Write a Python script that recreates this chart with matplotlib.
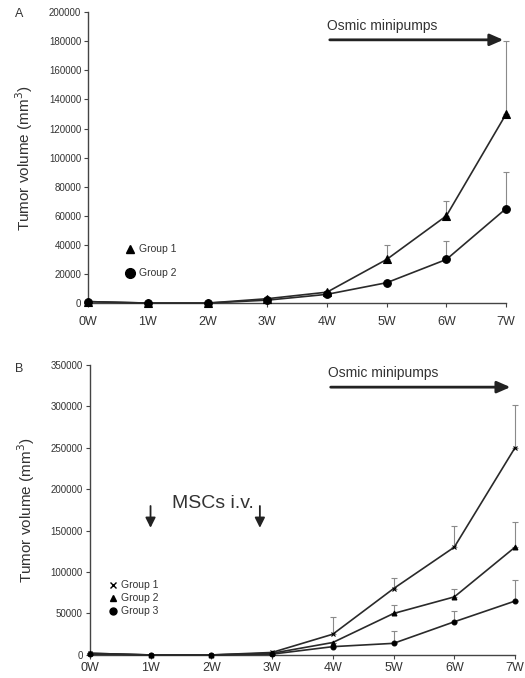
import numpy as np
import matplotlib
matplotlib.use("Agg")
from matplotlib import pyplot as plt

plt.rcParams['font.family'] = ['Liberation Sans', 'DejaVu Sans']

weeks = ['0W', '1W', '2W', '3W', '4W', '5W', '6W', '7W']

# panel A
a_g1 = [1000, 0, 0, 3000, 7500, 30000, 60000, 130000]
a_g1_top = [1000, 0, 0, 3000, 7500, 40000, 70000, 180000]
a_g2 = [1000, 0, 0, 2000, 6000, 14000, 30000, 65000]
a_g2_top = [1000, 0, 0, 2000, 6000, 14000, 43000, 90000]

# panel B
b_g1 = [2000, 0, 0, 3000, 25000, 80000, 130000, 250000]
b_g1_top = [2000, 0, 0, 3000, 46000, 93000, 155000, 302000]
b_g2 = [2000, 0, 0, 2000, 15000, 50000, 70000, 130000]
b_g2_top = [2000, 0, 0, 2000, 15000, 60000, 80000, 160000]
b_g3 = [1000, 0, 0, 1000, 10000, 14000, 40000, 65000]
b_g3_top = [1000, 0, 0, 1000, 10000, 29000, 53000, 90000]

x = np.arange(len(weeks))
line_c = '#2a2a2a'
err_c = '#8a8a8a'

fig = plt.figure(figsize=(5.25, 6.78), dpi=100)
axA = fig.add_axes([0.168, 0.553, 0.796, 0.429])
axB = fig.add_axes([0.171, 0.034, 0.810, 0.428])


def series(ax, y, top, marker, ms):
    y = np.array(y)
    up = np.array(top) - y
    ax.errorbar(x, y, yerr=[np.zeros_like(up), up], fmt='none', ecolor=err_c,
                elinewidth=0.8, capsize=2, capthick=0.8, zorder=2, clip_on=False)
    ax.plot(x, y, color=line_c, lw=1.2, marker=marker, ms=ms, mfc='black',
            mec='black', mew=0.8, zorder=3, clip_on=False)


def style(ax, ymax, step, xpad):
    ax.set_xlim(0, 7)
    ax.set_ylim(0, ymax)
    ax.set_xticks(x)
    ax.set_xticklabels(weeks, fontsize=9, color='#333333')
    ax.set_yticks(np.arange(0, ymax + 1, step))
    ax.set_yticklabels([str(int(v)) for v in np.arange(0, ymax + 1, step)],
                       fontsize=7, color='#333333')
    for s in ['top', 'right']:
        ax.spines[s].set_visible(False)
    for s in ['left', 'bottom']:
        ax.spines[s].set_color('#444444')
        ax.spines[s].set_linewidth(1.0)
    ax.tick_params(length=3, width=0.8, color='#444444', pad=2)
    ax.tick_params(axis='x', pad=xpad)
    ax.set_ylabel('Tumor volume (mm$^3$)', fontsize=11, color='#333333', labelpad=10)


# A
series(axA, a_g1, a_g1_top, '^', 5.5)
series(axA, a_g2, a_g2_top, 'o', 5.5)
style(axA, 200000, 20000, 6)
axA.annotate('', xy=(7.0, 181000), xytext=(4.0, 181000),
             arrowprops=dict(arrowstyle='-|>,head_length=0.8,head_width=0.35',
                             color='#222222', lw=2), annotation_clip=False)
axA.text(4.0, 186000, 'Osmic minipumps', fontsize=10, color='#333333', va='bottom')
axA.plot([0.7], [37000], marker='^', ms=6, color='black', ls='none')
axA.plot([0.7], [21000], marker='o', ms=7, color='black', ls='none')
axA.text(0.85, 37000, 'Group 1', fontsize=7.5, va='center', color='#333333')
axA.text(0.85, 21000, 'Group 2', fontsize=7.5, va='center', color='#333333')
fig.text(0.028, 0.975, 'A', fontsize=9, color='#333333')

# B
series(axB, b_g1, b_g1_top, 'x', 3.5)
series(axB, b_g2, b_g2_top, '^', 3.5)
series(axB, b_g3, b_g3_top, 'o', 3.5)
style(axB, 350000, 50000, 2)
axB.annotate('', xy=(6.97, 323000), xytext=(3.92, 323000),
             arrowprops=dict(arrowstyle='-|>,head_length=0.8,head_width=0.35',
                             color='#222222', lw=2), annotation_clip=False)
axB.text(3.92, 332000, 'Osmic minipumps', fontsize=10, color='#333333', va='bottom')
for xa in [1.0, 2.8]:
    axB.annotate('', xy=(xa, 150000), xytext=(xa, 183000),
                 arrowprops=dict(arrowstyle='-|>,head_length=0.6,head_width=0.3',
                                 color='#222222', lw=1.3))
axB.text(1.35, 183000, 'MSCs i.v.', fontsize=14, color='#333333', va='center')
leg_y = [84000, 69000, 53000]
for yy, m, lab in zip(leg_y, ['x', '^', 'o'], ['Group 1', 'Group 2', 'Group 3']):
    axB.plot([0.38], [yy], marker=m, ms=5, color='black', ls='none')
    axB.text(0.52, yy, lab, fontsize=7.5, va='center', color='#333333')
fig.text(0.028, 0.452, 'B', fontsize=9, color='#333333')

fig.savefig('out.png', dpi=100)
